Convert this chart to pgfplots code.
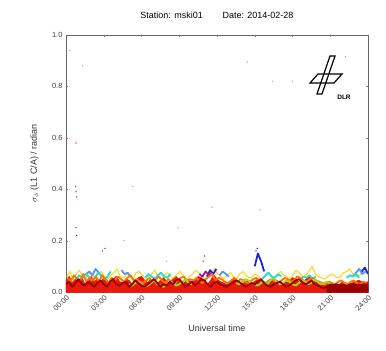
\documentclass[border=0pt]{standalone}
\usepackage{pgfplots}
\pgfplotsset{compat=1.18}
\usepackage{fontspec}
\setmainfont{Liberation Sans}
\definecolor{cdr}{rgb}{0.6,0,0}
\definecolor{cr}{rgb}{0.92,0.1,0.05}
\definecolor{co}{rgb}{1,0.45,0}
\definecolor{cy}{rgb}{1,0.85,0.1}
\definecolor{cg}{rgb}{0.6,0.85,0.15}
\definecolor{cc}{rgb}{0.15,0.85,0.85}
\definecolor{clb}{rgb}{0.3,0.6,1}
\definecolor{cb}{rgb}{0.1,0.15,0.85}
\definecolor{cp}{rgb}{0.6,0.1,0.6}
\newcommand{\ser}[3]{\addplot[#1] table[header=false,row sep=\\,x expr=\coordindex*0.25+#2,y index=0]{#3\\};}
\begin{document}
\begin{tikzpicture}
\useasboundingbox (-66pt,-59pt) rectangle (320pt,292pt);
\begin{axis}[
  scale only axis, width=302pt, height=257pt,
  xmin=0, xmax=24, ymin=0, ymax=1,
  xtick={0,3,...,24},
  xticklabels={\mbox{00:00},\mbox{03:00},\mbox{06:00},\mbox{09:00},\mbox{12:00},\mbox{15:00},\mbox{18:00},\mbox{21:00},\mbox{24:00}},
  ytick={0,0.2,...,1.0},
  yticklabel style={/pgf/number format/fixed,/pgf/number format/precision=1,/pgf/number format/fixed zerofill},
  /pgf/number format/assume math mode=true,
  tick label style={font=\fontsize{7.5}{8}\selectfont, text=black!75},
  xticklabel style={rotate=45, anchor=north east, inner sep=1.5pt},
  tick align=inside, major tick length=2pt,
  axis line style={draw=black!60, line width=0.8pt},
  tick style={black!50},
  title={Station: mski01\hspace{2.2em}Date: 2014-02-28},
  title style={font=\fontsize{9}{10}\selectfont, yshift=7pt},
  xlabel={Universal time},
  ylabel={$\sigma_\phi$ (L1 C/A) / radian},
  xlabel style={yshift=-8pt},
  ylabel style={yshift=6pt},
  label style={font=\fontsize{9}{10}\selectfont, text=black!80},
  every axis plot/.append style={line width=1.8pt, line join=round, sharp plot},
  clip=true,
]
% red (filled base)
\addplot[cr, fill=cr, line width=1pt] table[header=false,row sep=\\,x expr=\coordindex*0.25,y index=0]{0.045\\0.060\\0.035\\0.050\\0.040\\0.055\\0.030\\0.045\\0.060\\0.040\\0.050\\0.035\\0.055\\0.045\\0.030\\0.050\\0.060\\0.040\\0.035\\0.050\\0.045\\0.030\\0.040\\0.055\\0.060\\0.045\\0.035\\0.050\\0.040\\0.030\\0.045\\0.055\\0.040\\0.035\\0.050\\0.060\\0.045\\0.030\\0.040\\0.050\\0.035\\0.045\\0.060\\0.055\\0.040\\0.030\\0.045\\0.065\\0.050\\0.040\\0.035\\0.030\\0.040\\0.050\\0.045\\0.035\\0.030\\0.040\\0.045\\0.035\\0.040\\0.050\\0.045\\0.030\\0.035\\0.040\\0.050\\0.045\\0.035\\0.030\\0.040\\0.045\\0.055\\0.050\\0.040\\0.035\\0.045\\0.060\\0.050\\0.040\\0.035\\0.030\\0.025\\0.030\\0.035\\0.030\\0.025\\0.030\\0.040\\0.035\\0.030\\0.035\\0.040\\0.045\\0.040\\0.035\\0.040\\} \closedcycle;
% yellow
\ser{cy, line width=1.1pt}{0.06}{0.060\\0.080\\0.050\\0.070\\0.085\\0.060\\0.050\\0.075\\0.065\\0.055\\0.070\\0.080\\0.060\\0.050\\0.065\\0.075\\0.090\\0.060\\0.055\\0.070\\0.060\\0.050\\0.075\\0.080\\0.065\\0.055\\0.060\\0.070\\0.085\\0.060\\0.050\\0.065\\0.075\\0.060\\0.055\\0.070\\0.080\\0.065\\0.050\\0.060\\0.070\\0.085\\0.075\\0.060\\0.050\\0.065\\0.080\\0.090\\0.070\\0.060\\0.055\\0.065\\0.075\\0.060\\0.050\\0.070\\0.080\\0.065\\0.055\\0.060\\0.070\\0.060\\0.050\\0.065\\0.075\\0.060\\0.055\\0.070\\0.080\\0.065\\0.060\\0.050\\0.070\\0.085\\0.075\\0.060\\0.065\\0.080\\0.100\\0.070\\0.060\\0.055\\0.050\\0.060\\0.070\\0.065\\0.055\\0.060\\0.075\\0.080\\0.090\\0.070\\0.060\\0.065\\0.075\\0.080}
% light blue
\ser{clb}{1.6}{0.070\\0.080\\0.065\\0.090\\0.075\\0.060}
\ser{clb}{4.4}{0.085\\0.070\\0.075\\0.060}
\ser{clb}{12.2}{0.065\\0.080\\0.070\\0.060}
\ser{clb}{22.8}{0.060\\0.075\\0.090\\0.070\\0.080}
% cyan
\ser{cc}{0.8}{0.050\\0.065\\0.055\\0.070\\0.060\\0.045\\0.055\\0.075\\0.065\\0.050\\0.060\\0.080}
\ser{cc}{6.3}{0.055\\0.070\\0.060\\0.050\\0.065\\0.075\\0.060\\0.055\\0.070}
\ser{cc}{15.6}{0.050\\0.065\\0.075\\0.060\\0.055\\0.070\\0.060}
\ser{cc}{18.6}{0.045\\0.060\\0.055\\0.065\\0.050\\0.060}
\ser{cc}{22.3}{0.055\\0.065\\0.060\\0.070\\0.055}
% blue and purple
\ser{cb}{11.2}{0.060\\0.085\\0.070\\0.090}
\ser{cb}{15.0}{0.100\\0.150\\0.120\\0.080}
\ser{cb}{23.5}{0.080\\0.095\\0.070}
\ser{cp}{10.6}{0.070\\0.060\\0.080\\0.065\\0.075}
% orange
\ser{co}{0.125}{0.055\\0.040\\0.065\\0.050\\0.045\\0.070\\0.040\\0.055\\0.045\\0.060\\0.040\\0.065\\0.050\\0.035\\0.055\\0.045\\0.060\\0.050\\0.040\\0.055\\0.065\\0.045\\0.050\\0.040\\0.035\\0.045\\0.055\\0.040\\0.050\\0.060\\0.045\\0.035\\0.050\\0.040\\0.030\\0.045\\0.055\\0.060\\0.040\\0.050\\0.045\\0.055\\0.040\\0.035\\0.050\\0.060\\0.070\\0.045\\0.055\\0.050\\0.040\\0.035\\0.045\\0.055\\0.040\\0.050\\0.045\\0.035\\0.040\\0.050\\0.055\\0.045\\0.040\\0.035\\0.045\\0.050\\0.040\\0.035\\0.045\\0.055\\0.050\\0.040\\0.045\\0.060\\0.055\\0.045\\0.040\\0.050\\0.055\\0.045\\0.040\\0.035\\0.030\\0.040\\0.035\\0.030\\0.040\\0.045\\0.035\\0.030\\0.040\\0.045\\0.035\\0.030\\0.040\\0.035}
% yellow-green
\ser{cg}{5}{0.030\\0.025\\0.035\\0.040\\0.030\\0.020\\0.025\\0.035\\0.045\\0.030\\0.025\\0.020\\0.030\\0.040\\0.035\\0.025\\0.030\\0.040\\0.050\\0.035\\0.030}
\ser{cg}{13.5}{0.035\\0.030\\0.040\\0.050\\0.045\\0.035\\0.030\\0.025\\0.035\\0.040\\0.030\\0.045\\0.055\\0.040\\0.030\\0.035\\0.045\\0.040\\0.030\\0.025\\0.035\\0.045\\0.040\\0.030\\0.035\\0.050\\0.040\\0.030\\0.035\\0.040\\0.030}
% dark red
\ser{cdr}{0}{0.030\\0.040\\0.020\\0.035\\0.050\\0.030\\0.025\\0.040\\0.030\\0.020\\0.035\\0.045\\0.030\\0.020\\0.040\\0.050\\0.030\\0.025\\0.035\\0.040\\0.020\\0.030\\0.045\\0.035\\0.025\\0.020\\0.030\\0.040\\0.050\\0.035\\0.020\\0.030\\0.025\\0.040\\0.030\\0.045\\0.050\\0.035\\0.020\\0.030\\0.040\\0.025\\0.035\\0.050\\0.045\\0.030\\0.020\\0.035\\0.040\\0.030\\0.025\\0.020\\0.030\\0.035\\0.045\\0.040\\0.030\\0.020\\0.025\\0.035\\0.030\\0.040\\0.050\\0.035\\0.025\\0.020\\0.030\\0.035\\0.040\\0.030\\0.020\\0.025\\0.035\\0.045\\0.050\\0.040\\0.030\\0.035\\0.045\\0.030\\0.025\\0.020\\0.015\\0.020\\0.025\\0.020\\0.015\\0.020\\0.025\\0.020\\0.015\\0.020\\0.025\\0.030\\0.020\\0.025\\0.030}
% dark red base, 20:45-24:00
\addplot[cdr, fill=cdr, line width=1pt] table[header=false,row sep=\\,x expr=\coordindex*0.25+20.75,y index=0]{0.025\\0.030\\0.028\\0.032\\0.027\\0.030\\0.025\\0.029\\0.033\\0.028\\0.026\\0.030\\0.032\\0.027\\\\} \closedcycle;
% outliers
\addplot[only marks, mark=*, mark size=0.5pt, cr, line width=0.3pt] coordinates {(0.8,0.58) (0.75,0.41) (0.8,0.39) (0.85,0.37) (0.8,0.25) (0.85,0.22) (2.9,0.16) (3.1,0.17) (11.0,0.14) (10.9,0.12)};
\addplot[only marks, mark=*, mark size=0.5pt, black!35, line width=0.3pt] coordinates {(0.3,0.94) (1.3,0.88) (14.4,0.895) (16.4,0.82) (18.0,0.82) (22.2,0.915) (5.3,0.41) (11.6,0.33) (15.4,0.32) (8.9,0.25) (4.6,0.2) (8.0,0.12)};
\addplot[only marks, mark=*, mark size=0.5pt, cb, line width=0.3pt] coordinates {(15.2,0.17) (15.1,0.16)};
\end{axis}
% DLR logo
\draw[line width=1.2pt, line join=miter] (244pt,209pt) -- (252pt,218pt) -- (276pt,218pt) -- (268pt,209pt) -- cycle;
\draw[line width=1.2pt, line join=miter] (264pt,236pt) -- (269pt,236pt) -- (256pt,198pt) -- (251pt,198pt) -- cycle;
\node[font=\bfseries\fontsize{6.5}{7}\selectfont, anchor=center] at (278pt,195pt) {DLR};
\end{tikzpicture}
\end{document}
